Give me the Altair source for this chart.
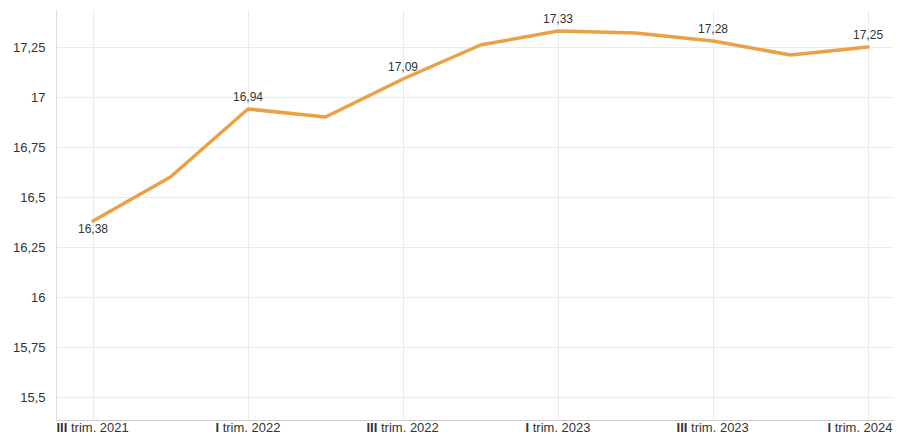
import altair as alt
import pandas as pd

# ---- data ----
quarters = ["III trim. 2021", "IV trim. 2021", "I trim. 2022", "II trim. 2022",
            "III trim. 2022", "IV trim. 2022", "I trim. 2023", "II trim. 2023",
            "III trim. 2023", "IV trim. 2023", "I trim. 2024"]
values = [16.38, 16.60, 16.94, 16.90, 17.09, 17.26, 17.33, 17.32, 17.28, 17.21, 17.25]
labelled = [True, False, True, False, True, False, True, False, True, False, True]
label_below = [True, False, False, False, False, False, False, False, False, False, False]

tick_index = [0, 2, 4, 6, 8, 10]
tick_roman = ["III", "I", "III", "I", "III", "I"]
tick_rest = ["trim. 2021", "trim. 2022", "trim. 2022", "trim. 2023", "trim. 2023", "trim. 2024"]

y_ticks = [15.5, 15.75, 16, 16.25, 16.5, 16.75, 17, 17.25]

FONT = "Liberation Sans"
LINE = "#eba045"
TEXT = "#333333"

df = pd.DataFrame({
    "idx": list(range(len(quarters))),
    "quarter": quarters,
    "value": values,
    "labelled": labelled,
    "below": label_below,
})
df["label"] = [f"{v:.2f}".replace(".", ",") for v in values]

ticks_df = pd.DataFrame({"idx": tick_index, "roman": tick_roman, "rest": tick_rest})
last_tick = tick_index[-1]

W, H = 838, 410
xscale = alt.Scale(domain=[-0.477, 10.335], nice=False, zero=False)
yscale = alt.Scale(domain=[15.385, 17.435], nice=False, zero=False)

x_enc = alt.X("idx:Q", scale=xscale,
              axis=alt.Axis(values=tick_index, labels=False, ticks=False, title=None,
                            grid=True, gridColor="#ebebeb", domainColor="#cccccc"))
y_enc = alt.Y("value:Q", scale=yscale,
              axis=alt.Axis(values=y_ticks, title=None, ticks=False, grid=True,
                            gridColor="#ebebeb", domainColor="#dddddd",
                            labelExpr="replace(toString(datum.value), '.', ',')",
                            labelFont=FONT, labelFontSize=13, labelColor=TEXT,
                            labelPadding=11))

base = alt.Chart(df)

line = base.mark_line(color=LINE, strokeWidth=3.5, strokeJoin="round", strokeCap="round").encode(
    x=x_enc, y=y_enc
)

above = base.transform_filter("datum.labelled && !datum.below").mark_text(
    font=FONT, fontSize=12, color=TEXT, baseline="alphabetic", align="center", dy=-8
).encode(x=alt.X("idx:Q", scale=xscale), y=alt.Y("value:Q", scale=yscale), text="label:N")

below = base.transform_filter("datum.labelled && datum.below").mark_text(
    font=FONT, fontSize=12, color=TEXT, baseline="alphabetic", align="center", dy=12
).encode(x=alt.X("idx:Q", scale=xscale), y=alt.Y("value:Q", scale=yscale), text="label:N")

tbase = alt.Chart(ticks_df)
label_y = alt.value(H + 12)


def tick_layers(expr, bold_dx, rest_dx):
    sub = tbase.transform_filter(expr)
    b = sub.mark_text(font=FONT, fontSize=13, fontWeight="bold", color=TEXT,
                      align="left", baseline="alphabetic", dx=bold_dx).encode(
        x=alt.X("idx:Q", scale=xscale), y=label_y, text="roman:N")
    r = sub.mark_text(font=FONT, fontSize=13, color=TEXT,
                      align="left", baseline="alphabetic", dx=rest_dx).encode(
        x=alt.X("idx:Q", scale=xscale), y=label_y, text="rest:N")
    return b + r


xl3 = tick_layers("datum.roman == 'III'", -36.5, -22.0)
xl1 = tick_layers(f"datum.roman == 'I' && datum.idx != {last_tick}", -32.5, -25.3)
xl_last = tick_layers(f"datum.idx == {last_tick}", -40.5, -33.3)

chart = alt.layer(line, above, below, xl3, xl1, xl_last).properties(
    width=W, height=H,
    autosize=alt.AutoSizeParams(type="none"),
    padding={"left": 48, "top": 2, "right": 0, "bottom": 15},
).configure_view(stroke=None)

chart.save("out.html", embed_options={"renderer": "svg", "actions": False})
